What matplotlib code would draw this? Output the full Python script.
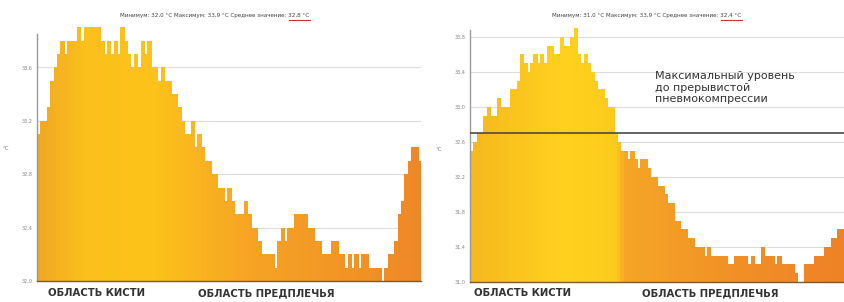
import numpy as np
import matplotlib
matplotlib.use("Agg")
import matplotlib.pyplot as plt
from matplotlib.colors import LinearSegmentedColormap

# temperature profile along the arm, before and after the procedure
left_vals = [
    33.1, 33.2, 33.2, 33.3, 33.5, 33.6, 33.7, 33.8, 33.7, 33.8,
    33.8, 33.8, 33.9, 33.8, 33.9, 33.9, 33.9, 33.9, 33.9, 33.8,
    33.7, 33.8, 33.7, 33.8, 33.7, 33.9, 33.8, 33.7, 33.6, 33.7,
    33.6, 33.8, 33.7, 33.8, 33.6, 33.6, 33.5, 33.6, 33.5, 33.5,
    33.4, 33.4, 33.3, 33.2, 33.1, 33.1, 33.2, 33.0, 33.1, 33.0,
    32.9, 32.9, 32.8, 32.8, 32.7, 32.7, 32.6, 32.7, 32.6, 32.5,
    32.5, 32.5, 32.6, 32.5, 32.4, 32.4, 32.3, 32.2, 32.2, 32.2,
    32.2, 32.1, 32.3, 32.4, 32.3, 32.4, 32.4, 32.5, 32.5, 32.5,
    32.5, 32.4, 32.4, 32.3, 32.3, 32.2, 32.2, 32.2, 32.3, 32.3,
    32.2, 32.2, 32.1, 32.2, 32.1, 32.2, 32.1, 32.2, 32.2, 32.1,
    32.1, 32.1, 32.1, 32.0, 32.1, 32.2, 32.2, 32.3, 32.5, 32.6,
    32.8, 32.9, 33.0, 33.0, 32.9,
]
right_vals = [
    32.5, 32.6, 32.7, 32.7, 32.9, 33.0, 32.9, 32.9, 33.1, 33.0,
    33.0, 33.0, 33.2, 33.2, 33.3, 33.6, 33.5, 33.4, 33.5, 33.6,
    33.5, 33.6, 33.5, 33.7, 33.7, 33.6, 33.6, 33.8, 33.7, 33.7,
    33.8, 33.9, 33.6, 33.5, 33.6, 33.5, 33.4, 33.3, 33.2, 33.2,
    33.1, 33.0, 33.0, 32.7, 32.6, 32.5, 32.5, 32.4, 32.5, 32.4,
    32.3, 32.4, 32.4, 32.3, 32.2, 32.2, 32.1, 32.1, 32.0, 31.9,
    31.9, 31.7, 31.7, 31.6, 31.6, 31.5, 31.5, 31.4, 31.4, 31.4,
    31.3, 31.4, 31.3, 31.3, 31.3, 31.3, 31.3, 31.2, 31.2, 31.3,
    31.3, 31.3, 31.3, 31.2, 31.3, 31.2, 31.2, 31.4, 31.3, 31.3,
    31.3, 31.2, 31.3, 31.2, 31.2, 31.2, 31.2, 31.1, 31.0, 31.0,
    31.2, 31.2, 31.2, 31.3, 31.3, 31.3, 31.4, 31.4, 31.5, 31.5,
    31.6, 31.6,
]
left_ticks = [32.0, 32.4, 32.8, 33.2, 33.6]
right_ticks = [31.0, 31.4, 31.8, 32.2, 32.6, 33.0, 33.4, 33.8]
limit_level = 32.7

left_title = "Минимум: 32,0 °C Максимум: 33,9 °C Среднее значение: "
left_mean = "32,8 °C"
right_title = "Минимум: 31,0 °C Максимум: 33,9 °C Среднее значение: "
right_mean = "32,4 °C"
zone_labels = ["ОБЛАСТЬ КИСТИ", "ОБЛАСТЬ ПРЕДПЛЕЧЬЯ"]
note = "Максимальный уровень\nдо прерывистой\nпневмокомпрессии"

W, H = 844, 302
fig = plt.figure(figsize=(W / 100, H / 100), dpi=100)


def px_axes(x0, y0, x1, y1):
    return fig.add_axes([x0 / W, 1 - y1 / H, (x1 - x0) / W, (y1 - y0) / H])


left_cmap = LinearSegmentedColormap.from_list(
    "l", [(0, "#f0a824"), (0.12, "#fbc01c"), (0.3, "#fcc21a"),
          (0.55, "#f6a424"), (1, "#ee8826")])
right_cmap = LinearSegmentedColormap.from_list(
    "r", [(0, "#f6b81e"), (0.25, "#ffd11e"), (0.39, "#fbcb1c"),
          (0.41, "#f5a626"), (0.7, "#f19026"), (1, "#ee8226")])


def draw(ax, vals, ticks, lo, hi, cmap):
    n = len(vals)
    x = np.arange(n)
    cols = [cmap(i / (n - 1)) for i in x]
    ax.bar(x, vals, width=1.0, color=cols, edgecolor=cols, linewidth=0.4,
           antialiased=False, zorder=2)
    ax.set_xlim(-0.5, n - 0.5)
    ax.set_ylim(lo, hi)
    ax.set_yticks(ticks)
    ax.set_yticklabels([("%.1f" % t).replace(".", ",") for t in ticks])
    ax.tick_params(axis="y", labelsize=3.5, colors="#888888", length=0, pad=3)
    ax.set_xticks([])
    ax.grid(axis="y", color="#dddddd", linewidth=0.8, zorder=0)
    for s in ["top", "right"]:
        ax.spines[s].set_visible(False)
    ax.spines["left"].set_color("#999999")
    ax.spines["left"].set_linewidth(1.0)
    ax.spines["left"].set_bounds(lo, hi - 0.09)
    ax.spines["bottom"].set_color("#7a5a30")
    ax.spines["bottom"].set_linewidth(1.0)
    ax.set_ylabel("°C", fontsize=4, color="#777777", rotation=0, labelpad=12)


ax1 = px_axes(37, 22, 421, 281)
draw(ax1, left_vals, left_ticks, 32.0, 33.94, left_cmap)

ax2 = px_axes(470, 22, 844, 282)
draw(ax2, right_vals, right_ticks, 31.0, 33.97, right_cmap)
ax2.axhline(limit_level, color="#4a4a4a", linewidth=1.2, zorder=3)
ax2.text(0.495, 0.81, note, transform=ax2.transAxes, fontsize=8,
         color="#333333", va="top", ha="left", linespacing=1.15)

# titles with the mean value underlined like in the source document
for cx, txt, mean in [(215, left_title, left_mean), (647, right_title, right_mean)]:
    t = fig.text(cx / W, 1 - 15 / H, txt + mean, fontsize=4.1, color="#444444",
                 ha="center", va="center")
    fig.canvas.draw()
    bb = t.get_window_extent()
    mw = len(mean) / len(txt + mean) * bb.width * 0.95
    fig.add_artist(plt.Line2D([(bb.x1 - mw) / W, bb.x1 / W],
                              [1 - 19.5 / H, 1 - 19.5 / H], color="#d03030",
                              linewidth=0.8))

for x0, lab in [(48, zone_labels[0]), (198, zone_labels[1]),
                (474, zone_labels[0]), (642, zone_labels[1])]:
    fig.text(x0 / W, 1 - 293 / H, lab, fontsize=7.3, fontweight="bold",
             color="#333333", ha="left", va="center", family="DejaVu Sans")

fig.savefig("out.png", dpi=100)
